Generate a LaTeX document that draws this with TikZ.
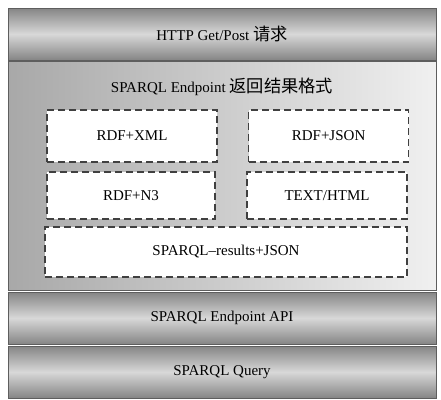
\documentclass[tikz,border=0pt]{standalone}
\usepackage{fontspec}
\setmainfont{Liberation Serif}
\newfontfamily\cjk{Noto Sans CJK SC}[Scale=1.15]
\usetikzlibrary{positioning}
\definecolor{BandDark}{HTML}{858585}
\definecolor{BandLight}{HTML}{D8D8D8}
\definecolor{PanelDark}{HTML}{A8A8A8}
\definecolor{PanelLight}{HTML}{F0F0F0}
\definecolor{EdgeGray}{HTML}{5E5E5E}
\tikzset{
  layerband/.style={draw=EdgeGray,line width=1pt,minimum width=428pt,minimum height=52pt,inner sep=0pt,top color=BandDark,bottom color=BandDark,middle color=BandLight,font=\fontsize{15}{17}\selectfont},
  fmtpanel/.style={draw=EdgeGray,line width=1pt,minimum width=428pt,minimum height=229pt,inner sep=0pt,left color=PanelDark,right color=PanelLight},
  fmtbox/.style={draw=black!75,line width=1.6pt,dash pattern=on 7pt off 4pt,fill=white,minimum height=50pt,inner sep=0pt,font=\fontsize{15}{17}\selectfont}
}
\begin{document}
\begin{tikzpicture}[x=1pt,y=-1pt]
\useasboundingbox[fill=white] (0,0) rectangle (441,399);
% layers
\node[layerband] (http) at (222,34) {HTTP Get/Post {\cjk 请求}};
\node[fmtpanel] (panel) at (222,175.5) {};
\node[layerband] (api) at (222,318) {SPARQL Endpoint API};
\node[layerband] (query) at (222,372) {SPARQL Query};
\node[font=\fontsize{15}{17}\selectfont] (title) at (222,87) {SPARQL Endpoint {\cjk 返回结果格式}};
% result formats
\node[fmtbox,minimum width=170pt,minimum height=52pt] (xml) at (132,136) {RDF+XML};
\node[fmtbox,minimum width=160pt,minimum height=52pt,right=30pt of xml] (json) {RDF+JSON};
\node[fmtbox,minimum width=168pt,minimum height=47pt] (nthree) at (131,195.5) {RDF+N3};
\node[fmtbox,minimum width=160pt,minimum height=47pt] (html) at (327,195.5) {TEXT/HTML};
\node[fmtbox,minimum width=362pt] (results) at (226,252) {SPARQL--results+JSON};
\end{tikzpicture}
\end{document}
